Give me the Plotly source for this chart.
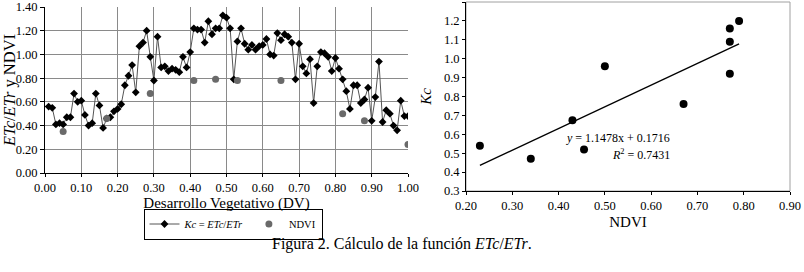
import plotly.graph_objects as go

# ---- Left chart data: Kc = ETc/ETr vs desarrollo vegetativo ----
dv = [round(0.01 * i, 2) for i in range(1, 101)]
kc_series = [
    0.56, 0.55, 0.41, 0.42, 0.41, 0.47, 0.47, 0.67, 0.60, 0.61,
    0.49, 0.40, 0.42, 0.67, 0.57, 0.38, 0.46, 0.47, 0.52, 0.54,
    0.58, 0.74, 0.82, 0.91, 0.68, 1.07, 1.10, 1.20, 0.98, 0.78,
    1.15, 0.89, 0.90, 0.86, 0.88, 0.87, 0.85, 0.98, 0.89, 1.02,
    1.22, 1.21, 1.21, 1.10, 1.28, 1.17, 1.22, 1.22, 1.33, 1.31,
    1.22, 0.79, 1.11, 1.22, 1.09, 1.04, 1.08, 1.04, 1.07, 1.08,
    1.13, 1.00, 0.99, 1.18, 1.12, 1.17, 1.15, 1.10, 0.79, 1.09,
    0.90, 0.84, 0.96, 0.59, 0.90, 1.02, 1.01, 0.98, 0.86, 0.97,
    0.88, 0.79, 0.69, 0.54, 0.74, 0.74, 0.59, 0.62, 0.72, 0.44,
    0.64, 0.94, 0.43, 0.53, 0.50, 0.40, 0.36, 0.61, 0.48, 0.48,
]
ndvi_dv = [0.05, 0.17, 0.29, 0.41, 0.47, 0.53, 0.65, 0.82, 0.88, 1.00]
ndvi_vals = [0.35, 0.46, 0.67, 0.78, 0.79, 0.78, 0.78, 0.50, 0.44, 0.24]

# ---- Right chart data: Kc vs NDVI ----
sc_ndvi = [0.23, 0.34, 0.43, 0.455, 0.50, 0.67, 0.77, 0.77, 0.77, 0.79]
sc_kc = [0.54, 0.47, 0.675, 0.52, 0.96, 0.76, 0.92, 1.09, 1.16, 1.20]
slope, intercept, r2 = 1.1478, 0.1716, 0.7431

SERIF = "Liberation Serif, Times New Roman, serif"
W, H = 804, 272

def px(x):
    return x / W

def py(y):
    return 1 - y / H

fig = go.Figure()

fig.add_trace(go.Scatter(
    x=dv, y=kc_series, mode="lines+markers",
    name="<i>Kc</i> = <i>ETc</i>/<i>ETr</i>",
    line=dict(color="#555555", width=1),
    marker=dict(symbol="diamond", size=6, color="black"),
    xaxis="x", yaxis="y",
))
fig.add_trace(go.Scatter(
    x=ndvi_dv, y=ndvi_vals, mode="markers", name="NDVI",
    marker=dict(symbol="circle", size=7, color="#6a6a6a"),
    xaxis="x", yaxis="y",
))

trend_x = [min(sc_ndvi), max(sc_ndvi)]
trend_y = [slope * v + intercept for v in trend_x]
fig.add_trace(go.Scatter(
    x=trend_x, y=trend_y, mode="lines", showlegend=False,
    line=dict(color="black", width=1.3), xaxis="x2", yaxis="y2",
))
fig.add_trace(go.Scatter(
    x=sc_ndvi, y=sc_kc, mode="markers", showlegend=False,
    marker=dict(symbol="circle", size=8, color="black"),
    xaxis="x2", yaxis="y2",
))

tick_font = dict(family=SERIF, size=12.5, color="black")
title_font = dict(family=SERIF, size=15, color="black")

fig.update_layout(
    width=W, height=H,
    margin=dict(l=0, r=0, t=0, b=0),
    paper_bgcolor="white", plot_bgcolor="white",
    font=dict(family=SERIF, color="black"),
    xaxis=dict(
        domain=[px(45), px(408)], range=[0, 1.0], dtick=0.1, tickformat=".2f",
        showgrid=True, gridcolor="#8a8a8a", gridwidth=1,
        showline=True, linecolor="black", linewidth=1,
        ticks="outside", ticklen=3, tickcolor="black",
        tickfont=tick_font, zeroline=False, automargin=False,
        title=dict(text="Desarrollo Vegetativo (DV)", font=title_font, standoff=0),
        anchor="y",
    ),
    yaxis=dict(
        domain=[py(173), py(7)], range=[0, 1.4], dtick=0.2, tickformat=".2f",
        showgrid=True, gridcolor="#8a8a8a", gridwidth=1,
        showline=True, linecolor="black", linewidth=1,
        ticks="outside", ticklen=4, tickcolor="black",
        tickfont=tick_font, zeroline=False, automargin=False,
        title=dict(text="<i>ETc</i>/<i>ETr</i> y NDVI",
                   font=dict(family=SERIF, size=16.5, color="black"), standoff=4),
        anchor="x",
    ),
    xaxis2=dict(
        domain=[px(466), px(790)], range=[0.2, 0.9], dtick=0.1, tickformat=".2f",
        showgrid=False, showline=True, linecolor="black", linewidth=1,
        ticks="outside", ticklen=3, tickcolor="black",
        tickfont=tick_font, zeroline=False, automargin=False,
        title=dict(text="NDVI", font=title_font, standoff=4),
        anchor="y2",
    ),
    yaxis2=dict(
        domain=[py(191), py(2)], range=[0.3, 1.3], dtick=0.1, tickformat=".1f",
        showgrid=False, showline=True, linecolor="black", linewidth=1,
        ticks="outside", ticklen=3, tickcolor="black",
        tickfont=tick_font, zeroline=False, automargin=False,
        title=dict(text="<i>Kc</i>", font=title_font, standoff=8),
        anchor="x2",
    ),
    legend=dict(
        orientation="h", x=px(233), y=py(224), xanchor="center", yanchor="middle",
        bordercolor="black", borderwidth=1, bgcolor="white",
        font=dict(family=SERIF, size=10.5, color="black"),
        itemwidth=30, tracegroupgap=0,
    ),
    showlegend=True,
    shapes=[
        dict(type="rect", xref="x2 domain", yref="y2 domain", x0=0, x1=1, y0=0, y1=1,
             line=dict(color="#a0a0a0", width=1), layer="below"),
    ],
    annotations=[
        dict(text="<i>y</i> = 1.1478x + 0.1716", x=px(672), y=py(138), xref="paper", yref="paper",
             showarrow=False, font=dict(family=SERIF, size=12, color="black")),
        dict(text="<i>R</i><sup>2</sup> = 0.7431", x=px(672), y=py(154), xref="paper", yref="paper",
             showarrow=False, font=dict(family=SERIF, size=12, color="black")),
        dict(text="Figura 2. Cálculo de la función <i>ETc</i>/<i>ETr</i>.", x=px(402), y=py(255),
             xref="paper", yref="paper", showarrow=False,
             font=dict(family=SERIF, size=16, color="black")),
    ],
)

fig.write_html(
    "out.html",
    config=dict(displayModeBar=False),
    post_script="document.body.style.margin='0';",
)
